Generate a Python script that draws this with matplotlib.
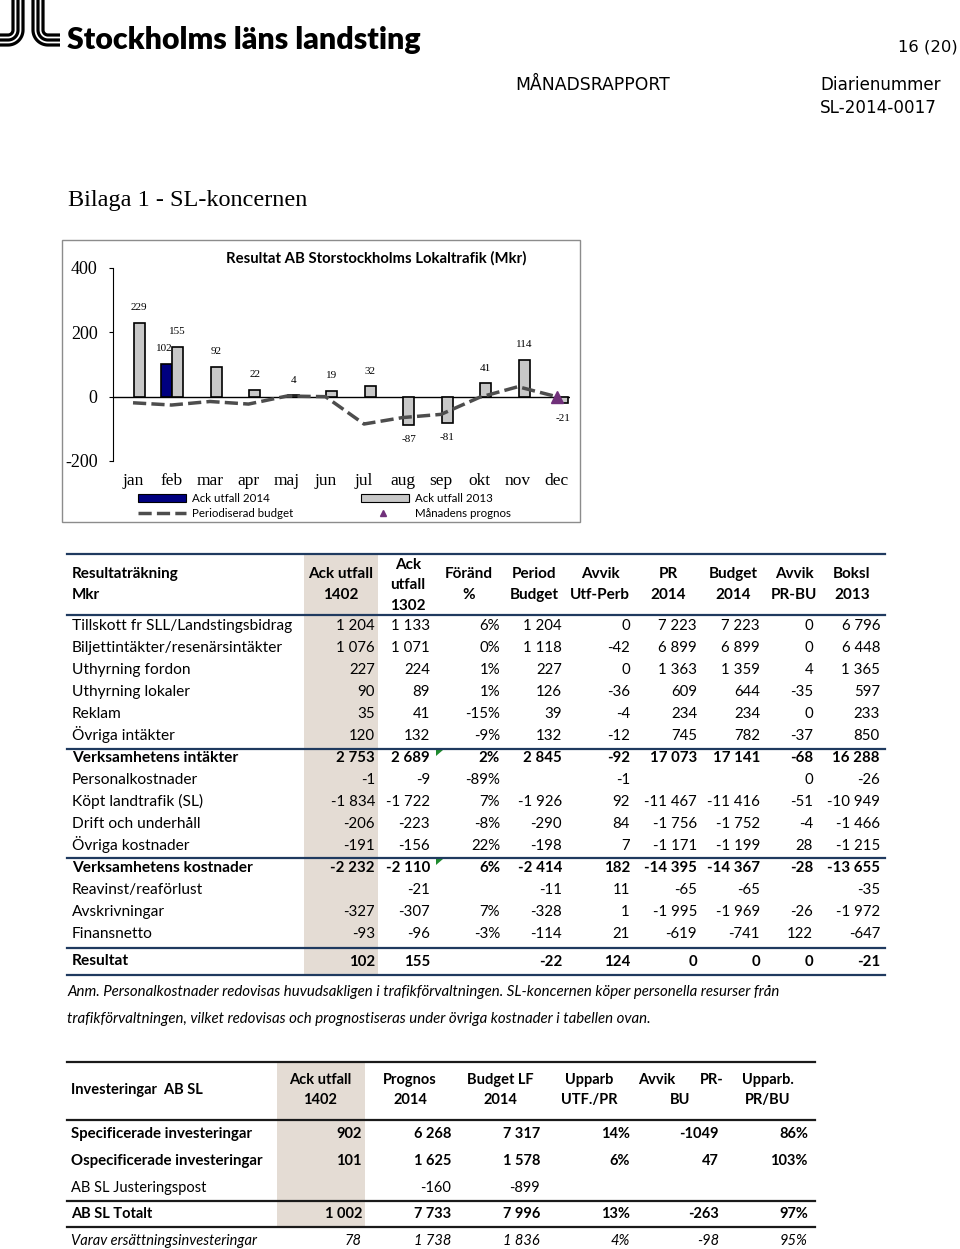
import numpy as np
import matplotlib.pyplot as plt
from matplotlib.patches import Rectangle, Polygon

W, H = 960, 1249
SANS = "Lato"
SERIF = "Liberation Serif"
NAVY_LINE = "#1f3a5f"
SHADE = "#e4dcd4"

# --- chart data (Mkr) ---
months = ["jan", "feb", "mar", "apr", "maj", "jun", "jul", "aug", "sep", "okt", "nov", "dec"]
ack_utfall_2014 = [np.nan, 102] + [np.nan] * 10
ack_utfall_2013 = [229, 155, 92, 22, 4, 19, 32, -87, -81, 41, 114, -21]
periodiserad_budget = [-19, -26, -15, -23, 2, 0, -85, -65, -55, -2, 31, 0]
manadens_prognos = [np.nan] * 11 + [0]
y_ticks = [-200, 0, 200, 400]

# --- resultaträkning ---
rr_labels = ["Tillskott fr SLL/Landstingsbidrag", "Biljettintäkter/resenärsintäkter", "Uthyrning fordon",
             "Uthyrning lokaler", "Reklam", "Övriga intäkter", "Verksamhetens intäkter", "Personalkostnader",
             "Köpt landtrafik (SL)", "Drift och underhåll", "Övriga kostnader", "Verksamhetens kostnader",
             "Reavinst/reaförlust", "Avskrivningar", "Finansnetto", "Resultat"]
ack_1402 = [1204, 1076, 227, 90, 35, 120, 2753, -1, -1834, -206, -191, -2232, None, -327, -93, 102]
ack_1302 = [1133, 1071, 224, 89, 41, 132, 2689, -9, -1722, -223, -156, -2110, -21, -307, -96, 155]
forand_pct = [6, 0, 1, 1, -15, -9, 2, -89, 7, -8, 22, 6, None, 7, -3, None]
period_budget = [1204, 1118, 227, 126, 39, 132, 2845, None, -1926, -290, -198, -2414, -11, -328, -114, -22]
avvik_utf_perb = [0, -42, 0, -36, -4, -12, -92, -1, 92, 84, 7, 182, 11, 1, 21, 124]
pr_2014 = [7223, 6899, 1363, 609, 234, 745, 17073, None, -11467, -1756, -1171, -14395, -65, -1995, -619, 0]
budget_2014 = [7223, 6899, 1359, 644, 234, 782, 17141, None, -11416, -1752, -1199, -14367, -65, -1969, -741, 0]
avvik_pr_bu = [0, 0, 4, -35, 0, -37, -68, 0, -51, -4, 28, -28, None, -26, 122, 0]
boksl_2013 = [6796, 6448, 1365, 597, 233, 850, 16288, -26, -10949, -1466, -1215, -13655, -35, -1972, -647, -21]

# --- investeringar ---
inv_labels = ["Specificerade investeringar", "Ospecificerade investeringar", "AB SL Justeringspost",
              "AB SL Totalt", "Varav ersättningsinvesteringar"]
inv_ack_1402 = [902, 101, None, 1002, 78]
inv_prognos = [6268, 1625, -160, 7733, 1738]
inv_budget_lf = [7317, 1578, -899, 7996, 1836]
inv_upparb_utf_pr = [14, 6, None, 13, 4]
inv_avvik_pr_bu = [-1049, 47, None, -263, -98]
inv_upparb_pr_bu = [86, 103, None, 97, 95]


def fmt(v, sep=" "):
    if v is None:
        return ""
    s = f"{abs(v):,}".replace(",", sep)
    return "-" + s if v < 0 else s


def pct(v):
    return "" if v is None else f"{v}%"


fig = plt.figure(figsize=(W / 100, H / 100), dpi=100)
page = fig.add_axes([0, 0, 1, 1])
page.set_xlim(0, W)
page.set_ylim(H, 0)
page.axis("off")


def cell(x, y, s, fontsize, **kw):
    # baseline placement so accents (Ö, Å) don't shift the row
    return page.text(x, y + 0.28 * fontsize * 100 / 72, s, fontsize=fontsize, family=SANS,
                     va="baseline", **kw)


# --- header ---
for cx, cy, side in [(8, 30, "J"), (48, 30, "L")]:
    for r in (5, 10, 15):
        t = np.linspace(0, np.pi / 2, 20)
        if side == "J":
            xs = np.r_[cx + r, cx + r * np.cos(t), 0]
            ys = np.r_[0, cy + r * np.sin(t), cy + r]
        else:
            xs = np.r_[cx - r, cx - r * np.cos(t), 60]
            ys = np.r_[0, cy + r * np.sin(t), cy + r]
        page.plot(xs, ys, color="black", lw=2.3, solid_capstyle="butt")
page.text(67, 40, "Stockholms läns landsting", fontsize=21.8, fontweight="heavy", family=SANS, va="center")
page.text(958, 47, "16 (20)", fontsize=11.8, family="DejaVu Sans", ha="right", va="center")
page.text(515, 85, "MÅNADSRAPPORT", fontsize=12.4, family="DejaVu Sans", va="center")
page.text(820, 85, "Diarienummer", fontsize=12.1, family="DejaVu Sans", va="center")
page.text(820, 108, "SL-2014-0017", fontsize=12.1, family="DejaVu Sans", va="center")
page.text(68, 200, "Bilaga 1 - SL-koncernen", fontsize=17.5, family=SERIF, va="center")

# --- chart frame and legend ---
page.add_patch(Rectangle((62, 240), 518, 282, fill=False, ec="#8c8c8c", lw=1))
page.text(376, 258, "Resultat AB Storstockholms Lokaltrafik (Mkr)", fontsize=10.7, fontweight="bold",
          family=SANS, ha="center", va="center")
leg_kw = dict(fontsize=8.3, family=SANS, va="center")
page.add_patch(Rectangle((138, 494), 48, 8, fc="#000080", ec="black", lw=0.8))
page.text(192, 498, "Ack utfall 2014", **leg_kw)
page.add_patch(Rectangle((361, 494), 48, 8, fc="#c8c8c8", ec="black", lw=0.8))
page.text(415, 498, "Ack utfall 2013", **leg_kw)
page.plot([138, 186], [513, 513], color="#4d4d4d", lw=2.5, ls=(0, (3.8, 1.5)))
page.text(192, 513, "Periodiserad budget", **leg_kw)
page.plot([383], [513], marker="^", color="#70307a", ms=5, ls="none")
page.text(415, 513, "Månadens prognos", **leg_kw)

ax = fig.add_axes([113 / W, 1 - 461 / H, (570 - 113) / W, (461 - 268) / H])
ax.set_facecolor("none")
x = np.arange(len(months))
ax.bar(x - 0.13, ack_utfall_2014, width=0.29, color="#000080", edgecolor="black", lw=1.2, zorder=3)
ax.bar(x + 0.16, ack_utfall_2013, width=0.29, color="#c8c8c8", edgecolor="black", lw=1.2, zorder=3)
ax.plot(x, periodiserad_budget, color="#4d4d4d", lw=2.5, ls=(0, (3.8, 1.5)), zorder=4)
ax.plot(x, manadens_prognos, marker="^", color="#70307a", ms=9, ls="none", zorder=5)
ax.axhline(0, color="black", lw=1, zorder=2)
for xi, v in zip(x, ack_utfall_2013):
    ax.annotate(str(v), (xi + 0.16, v), xytext=(0, 11 if v >= 0 else -11), textcoords="offset points",
                ha="center", va="center", fontsize=8, family=SERIF)
for xi, v in zip(x, ack_utfall_2014):
    if not np.isnan(v):
        ax.annotate(str(int(v)), (xi - 0.18, v), xytext=(0, 11), textcoords="offset points",
                    ha="center", va="center", fontsize=8, family=SERIF)
ax.set_xlim(-0.52, 11.35)
ax.set_ylim(-200, 400)
ax.set_yticks(y_ticks)
ax.set_yticklabels([str(v) for v in y_ticks], family=SERIF, fontsize=13)
ax.set_xticks(x)
ax.set_xticklabels(months, family=SERIF, fontsize=12.5)
ax.tick_params(axis="x", length=0, pad=9)
ax.tick_params(axis="y", length=3, pad=8)
for s in ("top", "right", "bottom"):
    ax.spines[s].set_visible(False)

# --- resultaträkning table ---
page.add_patch(Rectangle((304, 554), 74, 421, fc=SHADE, ec="none"))
for yl in (554, 615, 749, 858, 948, 975):
    page.plot([67, 885], [yl, yl], color=NAVY_LINE, lw=1.6)
cell(72, 574, "Resultaträkning", 11, fontweight="bold")
cell(72, 595, "Mkr", 11, fontweight="bold")
cell(408, 565, "Ack", 11, fontweight="bold", ha="center")
cell(408, 585, "utfall", 11, fontweight="bold", ha="center")
cell(408, 606, "1302", 11, fontweight="bold", ha="center")
for cx, top, bottom in [(341, "Ack utfall", "1402"), (469, "Föränd", "%"), (534, "Period", "Budget"),
                        (600, "Avvik", "Utf-Perb"), (668, "PR", "2014"), (733, "Budget", "2014"),
                        (794, "Avvik", "PR-BU"), (852, "Boksl", "2013")]:
    cell(cx, 574, top, 11, fontweight="bold", ha="center")
    cell(cx, 595, bottom, 11, fontweight="bold", ha="center")

row_y = [626 + 22 * i for i in range(15)] + [962]
bold_rows = {6, 11, 15}
columns = [(375, ack_1402, fmt), (430, ack_1302, fmt), (500, forand_pct, pct), (562, period_budget, fmt),
           (630, avvik_utf_perb, fmt), (697, pr_2014, fmt), (760, budget_2014, fmt),
           (813, avvik_pr_bu, fmt), (880, boksl_2013, fmt)]
for i, (lab, yy) in enumerate(zip(rr_labels, row_y)):
    w = "bold" if i in bold_rows else "normal"
    cell(72, yy - (1 if i == 15 else 0), lab, 11.2, fontweight=w)
    for xr, vals, f in columns:
        cell(xr, yy, f(vals[i]), 10.8, fontweight=w, ha="right")
for yl in (749, 858):
    page.add_patch(Polygon([(436, yl + 1), (443, yl + 1), (436, yl + 7)], closed=True, fc="#1e8a2e", ec="none"))

# --- note ---
cell(67, 992, "Anm. Personalkostnader redovisas huvudsakligen i trafikförvaltningen. SL-koncernen köper "
     "personella resurser från", 10.8, style="italic")
cell(67, 1019, "trafikförvaltningen, vilket redovisas och prognostiseras under övriga kostnader i tabellen ovan.",
     10.8, style="italic")

# --- investeringar table ---
page.add_patch(Rectangle((277, 1062), 88, 165, fc=SHADE, ec="none"))
for yl in (1062, 1120, 1201, 1227):
    page.plot([67, 815], [yl, yl], color="#1a1a1a", lw=1.6)
cell(71, 1090, "Investeringar  AB SL", 10.5, fontweight="bold")
for cx, top, bottom in [(320, "Ack utfall", "1402"), (410, "Prognos", "2014"), (500, "Budget LF", "2014"),
                        (589, "Upparb", "UTF./PR"), (768, "Upparb.", "PR/BU")]:
    cell(cx, 1080, top, 10.5, fontweight="bold", ha="center")
    cell(cx, 1100, bottom, 10.5, fontweight="bold", ha="center")
cell(638, 1080, "Avvik", 10.5, fontweight="bold")
cell(724, 1080, "PR-", 10.5, fontweight="bold", ha="right")
cell(680, 1100, "BU", 10.5, fontweight="bold", ha="center")

inv_y = [1134, 1161, 1188, 1214, 1241]
inv_cols = [(362, inv_ack_1402, fmt), (451, inv_prognos, fmt), (540, inv_budget_lf, fmt),
            (630, inv_upparb_utf_pr, pct), (719, inv_avvik_pr_bu, lambda v: fmt(v, "")),
            (808, inv_upparb_pr_bu, pct)]
for i, (lab, yy) in enumerate(zip(inv_labels, inv_y)):
    kw = {}
    if i in (0, 1, 3):
        kw["fontweight"] = "bold"
    if i == 4:
        kw["style"] = "italic"
    t = cell(71, yy, lab, 10.8 if i in (0, 1) else 10.5, **kw)
    if i == 4:
        t.set_clip_path(Rectangle((60, 1228), 217, 25, transform=page.transData))
    for xr, vals, f in inv_cols:
        cell(xr, yy, f(vals[i]), 10.5, ha="right", **kw)

fig.savefig("out.png", dpi=100)
